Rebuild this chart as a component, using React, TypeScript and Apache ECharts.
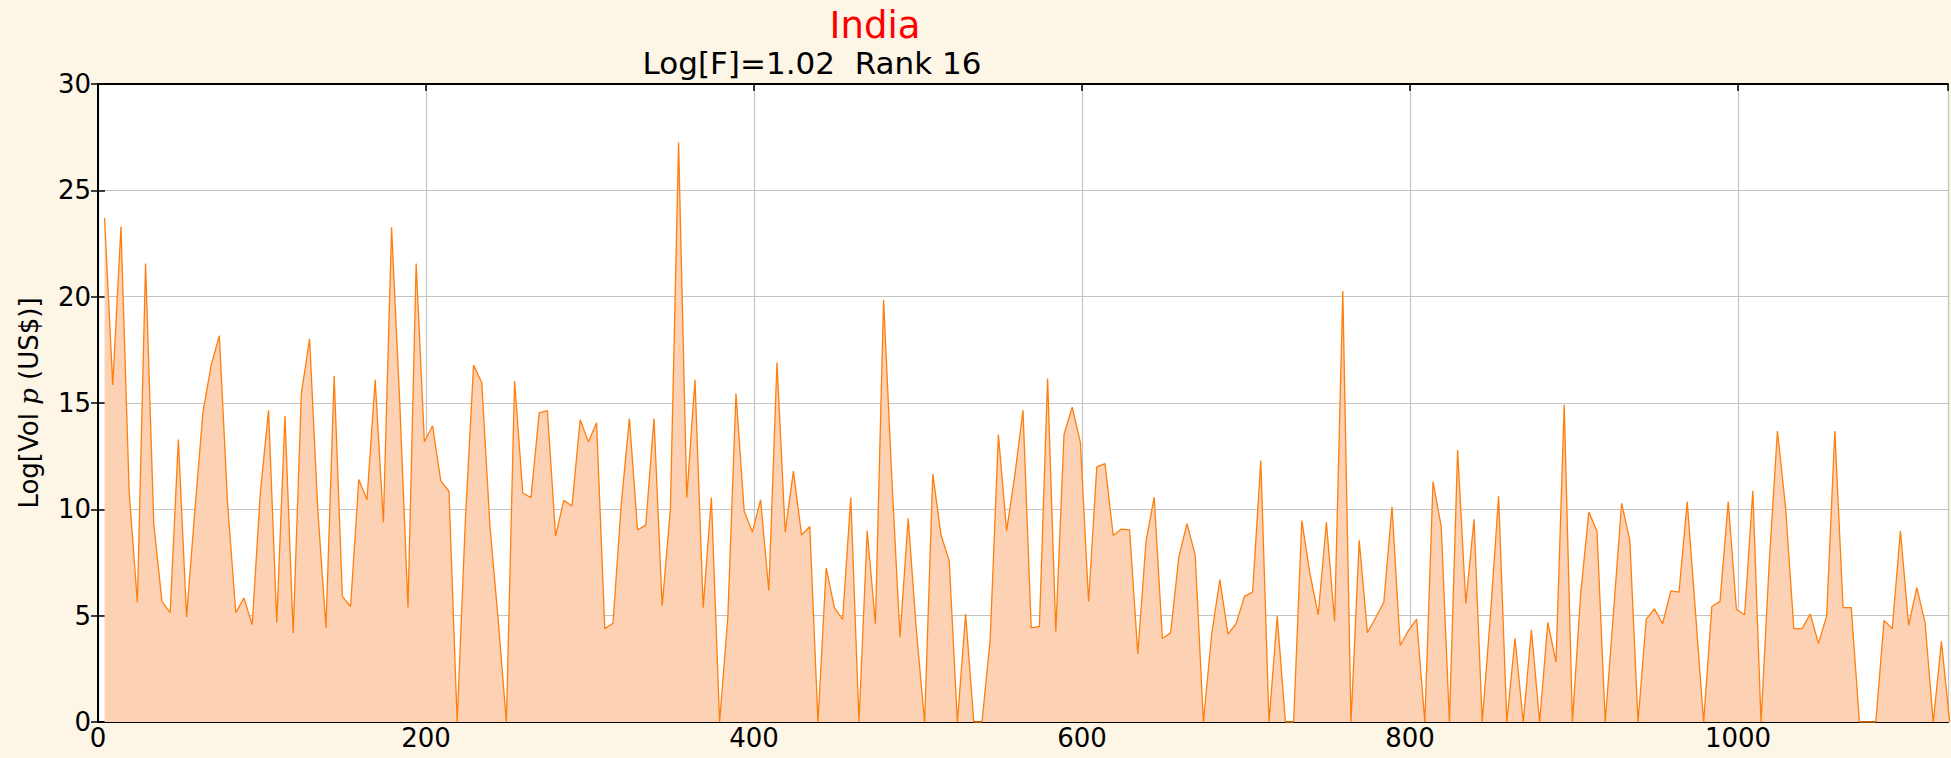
import React, { useEffect, useRef } from "react";
import * as echarts from "echarts";

// ---- data ----
const TITLE = "India";
const SUBTITLE = "Log[F]=1.02  Rank 16";
const Y_NAME_PREFIX = "Log[Vol ";
const Y_NAME_ITALIC = "p";
const Y_NAME_SUFFIX = " (US$)]";

// samples are evenly spaced along the x axis
const X_START = 4;
const X_STEP = 5;

const volumePart1 = [
  23.7, 15.85, 23.3, 10.8, 5.63, 21.56, 9.33, 5.67, 5.14, 13.28,
  4.94, 9.9, 14.57, 16.78, 18.16, 10.3, 5.14, 5.83, 4.58, 10.8,
  14.66, 4.68, 14.4, 4.19, 15.45, 18.02, 10.0, 4.43, 16.28, 5.91,
  5.43, 11.4, 10.45, 16.09, 9.39, 23.26, 15.0, 5.38, 21.56, 13.18,
  13.93, 11.34, 10.85, 0, 9.5,
];
const volumePart2 = [
  16.78, 15.95, 9.2, 4.8, 0, 16.03, 10.77, 10.55, 14.53, 14.64,
  8.74, 10.42, 10.16, 14.21, 13.18, 14.07, 4.39, 4.64, 10.2, 14.27,
  9.03, 9.27, 14.27, 5.47, 10.0, 27.25, 10.55, 16.09, 5.38, 10.55,
  0, 4.9, 15.45, 9.92, 8.93, 10.45, 6.17, 16.9, 8.93, 11.8,
  8.79, 9.19, 0, 7.25, 5.38,
];
const volumePart3 = [
  4.82, 10.55, 0, 8.99, 4.62, 19.84, 11.5, 3.99, 9.58, 4.3,
  0, 11.66, 8.79, 7.59, 0, 5.08, 0, 0, 3.89, 13.52,
  8.99, 11.6, 14.66, 4.43, 4.49, 16.15, 4.25, 13.52, 14.8, 13.14,
  5.67, 12.0, 12.15, 8.77, 9.07, 9.03, 3.2, 8.5, 10.57, 3.93,
  4.19, 7.75, 9.33, 7.85, 0,
];
const volumePart4 = [
  4.1, 6.7, 4.13, 4.64, 5.91, 6.11, 12.29, 0, 4.98, 0,
  0, 9.47, 6.96, 5.04, 9.39, 4.74, 20.26, 0, 8.54, 4.2,
  4.9, 5.63, 10.12, 3.6, 4.3, 4.84, 0, 11.3, 9.19, 0,
  12.79, 5.57, 9.53, 0, 5.0, 10.61, 0, 3.93, 0, 4.33,
  0, 4.68, 2.81, 14.92, 0,
];
const volumePart5 = [
  6.0, 9.88, 8.97, 0, 5.1, 10.28, 8.54, 0, 4.84, 5.32,
  4.62, 6.17, 6.11, 10.36, 5.2, 0, 5.43, 5.67, 10.36, 5.3,
  5.04, 10.87, 0, 7.5, 13.68, 10.06, 4.39, 4.39, 5.08, 3.7,
  4.98, 13.68, 5.38, 5.38, 0, 0, 0, 4.78, 4.39, 8.99,
  4.55, 6.32, 4.68, 0, 3.79, 0,
];

const xTickValues = [0, 200, 400, 600, 800, 1000];
const yTickValues = [0, 5, 10, 15, 20, 25, 30];

const volumes = [
  ...volumePart1,
  ...volumePart2,
  ...volumePart3,
  ...volumePart4,
  ...volumePart5,
];

// ---- layout / style ----
const W = 1951;
const H = 758;
const FONT = "DejaVu Sans";
const PLOT_LEFT = 98;
const PLOT_TOP = 84;
const PLOT_BOTTOM = 722;
const X_MAX = 1128;

export default function App() {
  const ref = useRef<HTMLDivElement>(null);

  useEffect(() => {
    if (!ref.current) return;
    const chart = echarts.init(ref.current, null, { renderer: "svg" });
    const seriesData = volumes.map((v, i) => [X_START + X_STEP * i, v]);
    const xInterval = xTickValues[1] - xTickValues[0];
    const yInterval = yTickValues[1] - yTickValues[0];

    const tickStyle = { show: true, inside: true, length: 7, lineStyle: { color: "#000", width: 1.5 } };

    chart.setOption({
      animation: false,
      backgroundColor: "#fdf5e6",
      grid: {
        left: PLOT_LEFT,
        top: PLOT_TOP,
        right: 0,
        bottom: H - PLOT_BOTTOM,
        show: true,
        backgroundColor: "#ffffff",
        borderWidth: 0,
        containLabel: false,
      },
      graphic: [
        {
          type: "text",
          x: 875,
          y: 25,
          style: {
            text: TITLE,
            fill: "#ff0000",
            font: `37px '${FONT}'`,
            textAlign: "center",
            textVerticalAlign: "middle",
          },
        },
        {
          type: "text",
          x: 812,
          y: 63,
          style: {
            text: SUBTITLE,
            fill: "#000000",
            font: `31px '${FONT}'`,
            textAlign: "center",
            textVerticalAlign: "middle",
          },
        },
      ],
      xAxis: [
        {
          type: "value",
          position: "bottom",
          min: 0,
          max: X_MAX,
          interval: xInterval,
          axisLine: { show: true, onZero: false, lineStyle: { color: "#000", width: 2 } },
          axisTick: tickStyle,
          axisLabel: {
            show: true,
            margin: 3,
            color: "#000",
            fontFamily: FONT,
            fontSize: 26,
            formatter: (v: number) => (xTickValues.includes(v) ? String(v) : ""),
          },
          splitLine: { show: true, lineStyle: { color: "#c4c4c4", width: 1.2 } },
        },
        {
          type: "value",
          position: "top",
          min: 0,
          max: X_MAX,
          interval: xInterval,
          axisLine: { show: true, onZero: false, lineStyle: { color: "#000", width: 2 } },
          axisTick: tickStyle,
          axisLabel: { show: false },
          splitLine: { show: false },
        },
      ],
      yAxis: [
        {
          type: "value",
          position: "left",
          min: 0,
          max: 30,
          interval: yInterval,
          axisLine: { show: true, onZero: false, lineStyle: { color: "#000", width: 2 } },
          axisTick: tickStyle,
          axisLabel: {
            show: true,
            margin: 7,
            color: "#000",
            fontFamily: FONT,
            fontSize: 26,
          },
          splitLine: { show: true, lineStyle: { color: "#c4c4c4", width: 1.2 } },
          name: `{n|${Y_NAME_PREFIX}}{i|${Y_NAME_ITALIC}}{n|${Y_NAME_SUFFIX}}`,
          nameLocation: "middle",
          nameRotate: 90,
          nameGap: 56,
          nameTextStyle: {
            rich: {
              n: { fontFamily: FONT, fontSize: 26, color: "#000" },
              i: { fontFamily: "DejaVu Serif", fontStyle: "italic", fontSize: 26, color: "#000" },
            },
          },
        },
        {
          type: "value",
          position: "right",
          min: 0,
          max: 30,
          interval: yInterval,
          axisLine: { show: false },
          axisTick: tickStyle,
          axisLabel: { show: false },
          splitLine: { show: false },
        },
      ],
      series: [
        {
          type: "line",
          xAxisIndex: 0,
          yAxisIndex: 0,
          data: seriesData,
          showSymbol: false,
          symbol: "none",
          clip: true,
          lineStyle: { color: "#ff7f0e", width: 1.3 },
          areaStyle: { color: "#fdd1b3", opacity: 1, origin: "start" },
          z: 3,
        },
      ],
    });

    return () => {
      chart.dispose();
    };
  }, []);

  return (
    <div
      ref={ref}
      style={{ position: "fixed", left: 0, top: 0, width: W, height: H }}
    />
  );
}
